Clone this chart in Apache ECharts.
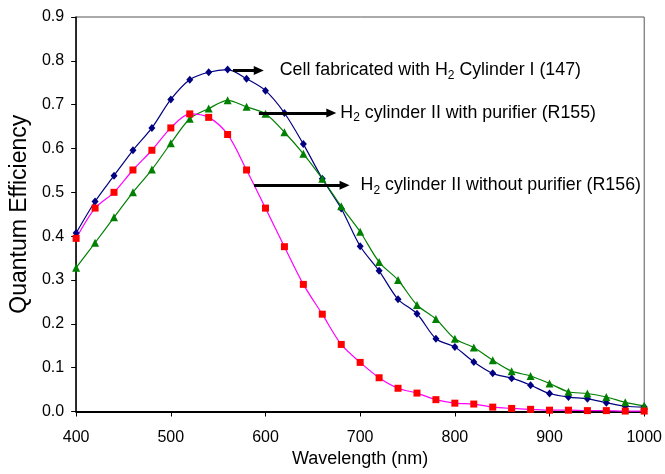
<!DOCTYPE html>
<html>
<head>
<meta charset="utf-8">
<script src="https://cdn.jsdelivr.net/npm/echarts@6/dist/echarts.min.js"></script>
<style>html,body{margin:0;padding:0;background:#fff}#c{width:665px;height:474px}</style>
</head>
<body>
<div id="c"></div>
<script>
// Data
const wavelengths = [400,420,440,460,480,500,520,540,560,580,600,620,640,660,680,700,720,740,760,780,800,820,840,860,880,900,920,940,960,980,1000];
const cylinderI_147 = [0.407,0.479,0.538,0.596,0.647,0.712,0.757,0.774,0.780,0.759,0.732,0.681,0.610,0.531,0.463,0.377,0.321,0.256,0.223,0.166,0.147,0.113,0.087,0.076,0.060,0.041,0.033,0.029,0.020,0.012,0.010];
const withPurifier_R155 = [0.328,0.385,0.443,0.500,0.552,0.612,0.668,0.691,0.710,0.695,0.679,0.637,0.588,0.531,0.468,0.410,0.341,0.300,0.243,0.211,0.166,0.146,0.117,0.092,0.081,0.064,0.045,0.041,0.033,0.021,0.013];
const withoutPurifier_R156 = [0.395,0.464,0.500,0.551,0.596,0.647,0.679,0.671,0.632,0.551,0.464,0.376,0.290,0.222,0.153,0.112,0.077,0.053,0.042,0.027,0.019,0.017,0.010,0.007,0.005,0.003,0.003,0.002,0.002,0.001,0.001];
const yTicks = [0,0.1,0.2,0.3,0.4,0.5,0.6,0.7,0.8,0.9];
const xTicks = [400,500,600,700,800,900,1000];
// Annotations (data coordinates): [xStart, xEnd, y]
const annotArrows = [[565.7,592.9,0.778],[593,669.5,0.681],[588,683.5,0.516]];
const annotTexts = [
  ['Cell fabricated with H','2',' Cylinder I (147)'],
  ['H','2',' cylinder II with purifier (R155)'],
  ['H','2',' cylinder II without purifier (R156)']
];
const annotGaps = [21,9,16];

const FONT = '"Liberation Sans", Arial, sans-serif';
const pair = (xs, ys) => xs.map((x,i)=>[x, ys[i]]);

const chart = echarts.init(document.getElementById('c'), null, {renderer:'canvas'});
const rich = {
  t:{fontFamily:FONT,fontSize:17.8,color:'#000',lineHeight:22,verticalAlign:'middle'},
  s:{fontFamily:FONT,fontSize:12,color:'#000',lineHeight:11,verticalAlign:'bottom'}
};
const mlData = annotArrows.map((a,i)=>{
  const lbl = {show:true,position:'end',distance:annotGaps[i],
    formatter:'{t|'+annotTexts[i][0]+'}{s|'+annotTexts[i][1]+'}{t|'+annotTexts[i][2]+'}',rich:rich};
  return [{coord:[a[0],a[2]],label:lbl},{coord:[a[1],a[2]],label:lbl}];
});

chart.setOption({
  animation:false,
  backgroundColor:'#fff',
  grid:{left:72.5,right:18.5,top:17,bottom:62.5,show:true,borderColor:'#555',borderWidth:1,backgroundColor:'transparent'},
  xAxis:{type:'value',min:xTicks[0],max:xTicks[xTicks.length-1],interval:100,
    name:'Wavelength (nm)',nameLocation:'middle',nameGap:38,
    nameTextStyle:{fontFamily:FONT,fontSize:18,color:'#000'},
    axisLine:{show:true,onZero:false,lineStyle:{color:'#000',width:2}},
    axisTick:{show:true,inside:false,length:5,lineStyle:{color:'#000',width:1}},
    axisLabel:{fontFamily:FONT,fontSize:16,color:'#000',margin:18,formatter:v=>String(v)},
    splitLine:{show:false}},
  yAxis:{type:'value',min:yTicks[0],max:yTicks[yTicks.length-1],interval:0.1,
    name:'Quantum Efficiency',nameLocation:'middle',nameGap:32,
    nameTextStyle:{fontFamily:FONT,fontSize:23,color:'#000'},
    axisLine:{show:true,lineStyle:{color:'#000',width:1.5}},
    axisTick:{show:true,inside:false,length:5,lineStyle:{color:'#000',width:1}},
    axisLabel:{fontFamily:FONT,fontSize:16,color:'#000',margin:12,formatter:v=>v.toFixed(1)},
    splitLine:{show:false}},
  series:[
    {type:'line',name:'Cylinder I (147)',data:pair(wavelengths,cylinderI_147),smooth:0.3,
     symbol:'diamond',symbolSize:[7,8],itemStyle:{color:'#000080'},lineStyle:{color:'#000080',width:1.2}},
    {type:'line',name:'R155',data:pair(wavelengths,withPurifier_R155),smooth:0.3,
     symbol:'triangle',symbolSize:8,itemStyle:{color:'#008000'},lineStyle:{color:'#008000',width:1.2}},
    {type:'line',name:'R156',data:pair(wavelengths,withoutPurifier_R156),smooth:0.3,
     symbol:'rect',symbolSize:7,itemStyle:{color:'#FF0000'},lineStyle:{color:'#FF00FF',width:1.2}},
    {type:'line',name:'annot',data:[],silent:true,
     markLine:{silent:true,symbol:['none','triangle'],symbolSize:[9,10],
       lineStyle:{color:'#000',width:3,type:'solid'},
       emphasis:{disabled:true},
       data:mlData}}
  ]
});
</script>
</body>
</html>
